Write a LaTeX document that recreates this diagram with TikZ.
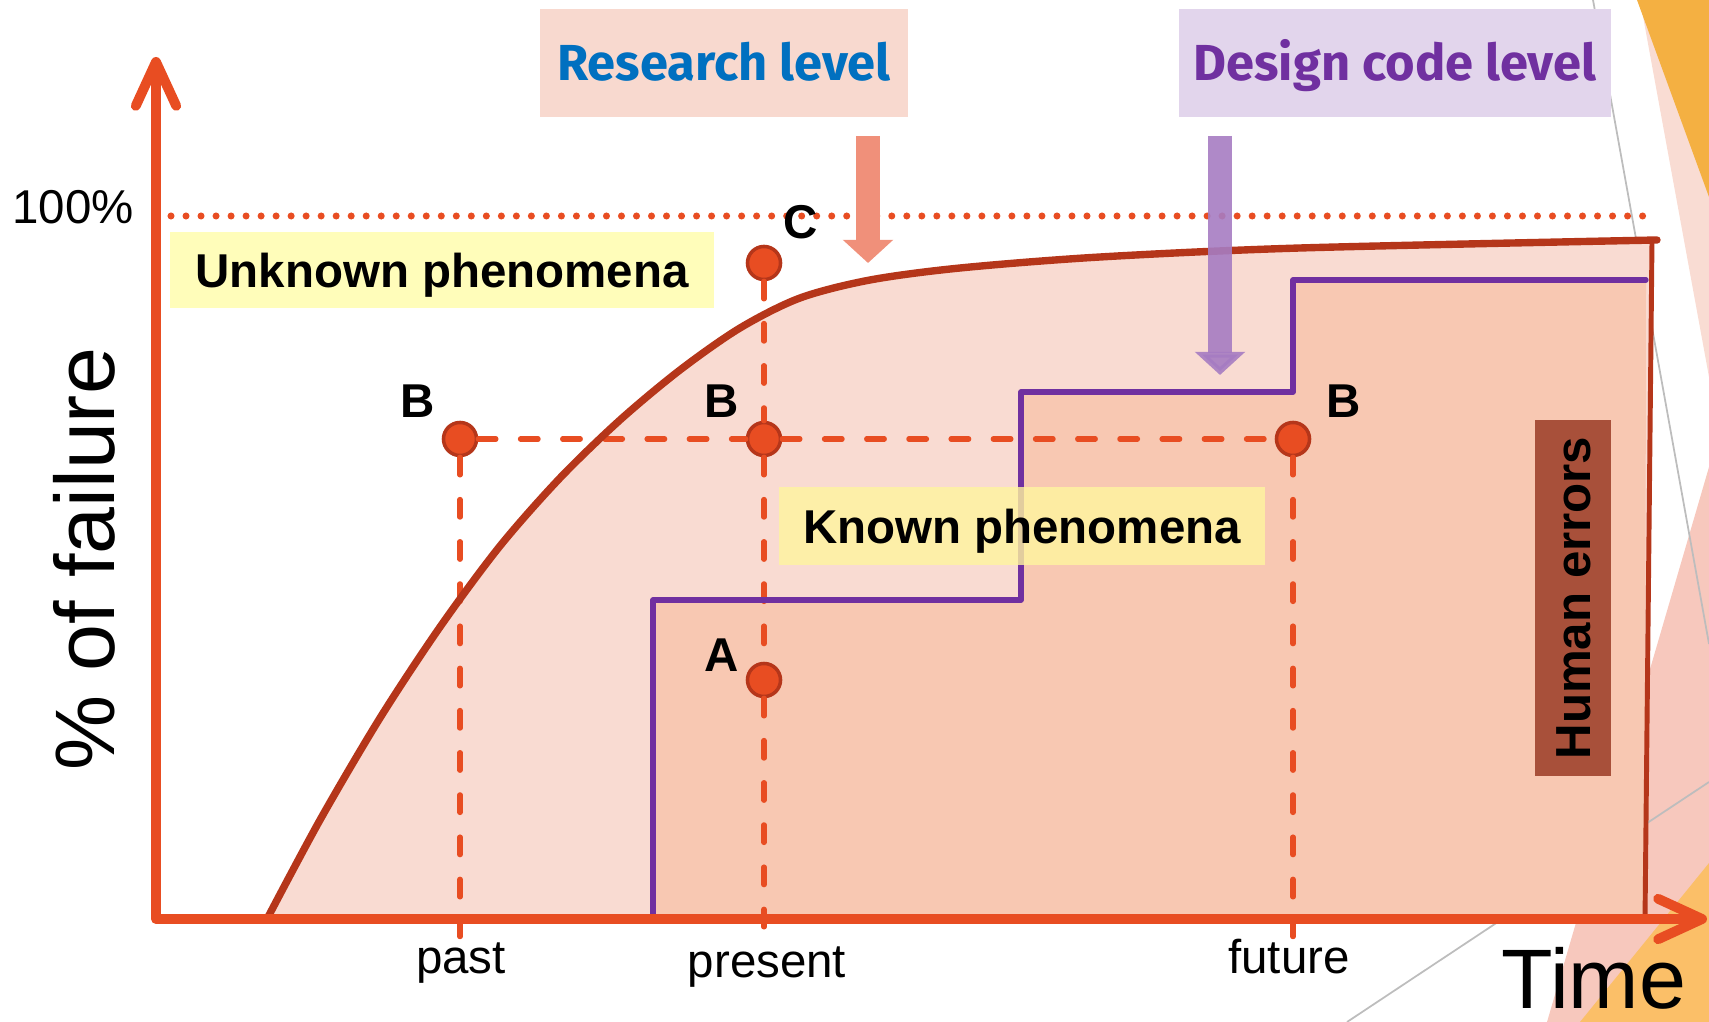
\documentclass[tikz,border=0pt]{standalone}
\usepackage{fontspec}
\setmainfont{Liberation Sans}
\newfontfamily\levelfont{Fira Sans}
\usetikzlibrary{arrows.meta}

\definecolor{axisred}{HTML}{E84D22}
\definecolor{curvered}{HTML}{B5361A}
\definecolor{stepviolet}{HTML}{7030A0}
\definecolor{fillpink}{HTML}{F9DBD2}
\definecolor{fillsalmon}{HTML}{F8C8B2}
\definecolor{researchbox}{HTML}{F8D9CF}
\definecolor{designbox}{HTML}{E2D5EC}
\definecolor{researchblue}{HTML}{0070C0}
\definecolor{unknownbox}{HTML}{FFFDBA}
\definecolor{knownbox}{HTML}{FFF59E}
\definecolor{humanbox}{HTML}{A8503A}
\definecolor{researcharrow}{HTML}{F0907A}
\definecolor{designarrow}{HTML}{A67CC2}
\definecolor{orangetop}{HTML}{F4B042}
\definecolor{orangelow}{HTML}{FBBF68}
\definecolor{pinktop}{HTML}{F9DCD3}
\definecolor{pinklow}{HTML}{F7C8BD}
\definecolor{slidegray}{HTML}{BDBDBD}

\begin{document}
\begin{tikzpicture}[x=0.01cm, y=-0.01cm,
            axis/.style={draw=axisred, line width=2.8pt, line cap=round, line join=round,
                {Straight Barb[length=12.5pt, width=11.5pt, round]}-{Straight Barb[length=12.5pt, width=11.5pt, round]}},
            guide/.style={draw=axisred, line width=1.5pt, line cap=round, dash pattern=on 5pt off 7pt},
            failpt/.style={circle, draw=curvered, line width=1pt, fill=axisred, minimum size=9.4pt, inner sep=0pt},
            ptname/.style={font=\bfseries\fontsize{13.5}{16}\selectfont, inner sep=0pt},
            ticktext/.style={font=\fontsize{13.5}{16}\selectfont, anchor=base, inner sep=0pt},
            phenbox/.style={inner sep=0pt, text height=9.7pt, text depth=0pt, font=\bfseries\fontsize{13.5}{16}\selectfont},
            levelbox/.style={inner sep=0pt, minimum height=30.7pt, text height=9.9pt, text depth=0pt, font=\levelfont\bfseries\fontsize{14.4}{17}\selectfont},
            levelarrow/.style={line width=6.6pt, -{Triangle[length=6.6pt, width=14pt]}}
        ]
            \useasboundingbox (0,0) rectangle (1709,1022);

            % slide decoration on the right
            \fill[pinktop] (1640,0) -- (1709,0) -- (1709,377) -- cycle;
            \fill[orangetop] (1637,0) -- (1709,0) -- (1709,197) -- cycle;
            \fill[pinklow] (1709,467) -- (1709,1022) -- (1547,1022) -- cycle;
            \fill[orangelow] (1709,863) -- (1709,1022) -- (1580,1022) -- cycle;
            \draw[slidegray, line width=0.5pt] (1593,0) -- (1709,644);
            \draw[slidegray, line width=0.5pt] (1347,1022) -- (1709,782);

            % areas under the curves
            \fill[fillpink] plot[smooth, tension=0.5] coordinates {(267,919) (320,820) (380,718) (440,627) (500,546) (560,478) (620,420) (680,370) (740,328) (800,298) (870,280) (960,268) (1100,257) (1300,248) (1653,240)} -- (1645,919) -- cycle;
            \fill[fillsalmon] (653,919) |- (1021,600) |- (1293,392) |- (1646,280) -- (1645,919) -- cycle;

            \draw[axisred, line width=2pt, line cap=round, dash pattern=on 0pt off 4.27pt] (171,216) -- (1652,216);

            \node[phenbox, fill=unknownbox, minimum width=154.5pt, minimum height=21.6pt] (unknown) at (442,270) {Unknown phenomena};

            % points A, B, C
            \node[failpt] (b1) at (460,439) {};
            \node[failpt] (b2) at (764,439) {};
            \node[failpt] (b3) at (1293,439) {};
            \node[failpt] (c) at (764,263) {};
            \node[failpt] (a) at (764,680) {};
            \coordinate (o) at (156,919);
            \draw[guide] (b1) -- (b2) -- (b3);
            \draw[guide] (b1) -- ([yshift=-5pt]b1 |- o);
            \draw[guide] (c) -- (b2) -- (a) -- ([yshift=-5pt]a |- o);
            \draw[guide] (b3) -- ([yshift=-5pt]b3 |- o);

            % curves
            \draw[curvered, line width=2.1pt, line cap=round] plot[smooth, tension=0.5] coordinates {(267,919) (320,820) (380,718) (440,627) (500,546) (560,478) (620,420) (680,370) (740,328) (800,298) (870,280) (960,268) (1100,257) (1300,248) (1657,240)};
            \draw[curvered, line width=1.4pt] (1652,240) -- (1645,919);
            \draw[stepviolet, line width=1.5pt, line cap=round, line join=round] (653,919) |- (1021,600) |- (1293,392) |- (1646,280);

            \node[phenbox, fill=knownbox, fill opacity=0.8, text opacity=1, minimum width=138.3pt, minimum height=22.2pt] (known) at (1022,526) {Known phenomena};

            \node[ptname] (lb1) at (418,401) {B};
            \node[ptname] (lb2) at (722,401) {B};
            \node[ptname] (lb3) at (1344,401) {B};
            \node[ptname] (lc) at (801,222) {C};
            \node[ptname] (la) at (722,655) {A};

            % levels
            \node[levelbox, fill=researchbox, text=researchblue, minimum width=104.7pt] (research) at (724,63) {Research level};
            \node[levelbox, fill=designbox, text=stepviolet, minimum width=122.6pt] (design) at (1395,63) {Design code level};
            \coordinate (rtop) at (868,136);
            \coordinate (rtip) at (868,263);
            \coordinate (dtop) at (1220,136);
            \coordinate (dtip) at (1220,375);
            \draw[levelarrow, researcharrow] (rtop) -- (rtip);
            \draw[levelarrow, designarrow, opacity=0.9] (dtop) -- (dtip);

            \node[phenbox, fill=humanbox, rotate=90, minimum width=101.3pt, minimum height=21.6pt, font=\bfseries\fontsize{14}{16}\selectfont, text height=10pt] (human) at (1573,598) {Human errors};

            % axes
            \coordinate (ytop) at (156,57);
            \coordinate (xend) at (1707,919);
            \draw[axis] (ytop) -- (o) -- (xend);

            \node[ticktext] (full) at (73,224) {100\%};
            \node[ticktext] (past) at (461,973) {past};
            \node[ticktext] (present) at (767,977) {present};
            \node[ticktext] (future) at (1289,973) {future};
            \node[ticktext, font=\fontsize{24}{28}\selectfont] (time) at (1594,1008) {Time};
            \node[ticktext, rotate=90, font=\fontsize{24}{28}\selectfont] (yname) at (114,559) {\% of failure};
        \end{tikzpicture}
\end{document}
